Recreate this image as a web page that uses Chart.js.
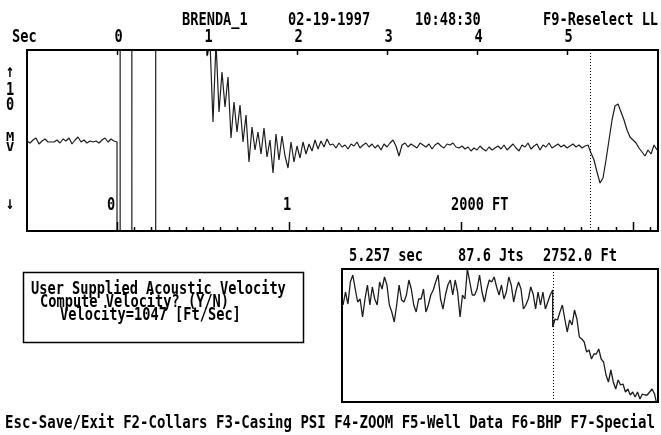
<!DOCTYPE html>
<html>
<head>
<meta charset="utf-8">
<title>BRENDA_1 acoustic trace</title>
<script src="https://cdn.jsdelivr.net/npm/chart.js"></script>
<style>
    html, body { margin: 0; padding: 0; background: #fff; }
    #wrap { position: relative; width: 661px; height: 435px; overflow: hidden; }
    #wrap canvas { position: absolute; left: 0; top: 0; }
</style>
</head>
<body>
<div id="wrap">
    <canvas id="traceChart" width="661" height="435"></canvas>
    <canvas id="zoomChart" width="661" height="435"></canvas>
</div>
<script>
// Acoustic fluid level shot - BRENDA_1

// Header
const wellName = 'BRENDA_1';
const shotDate = '02-19-1997';
const shotClock = '10:48:30';
const headerKey = 'F9-Reselect LL';

// Top axis (seconds)
const secTicks = [0, 1, 2, 3, 4, 5];
const secLabels = ['0', '1', '2', '3', '4', '5'];

// Bottom axis (depth in ft, two way travel at the acoustic velocity)
const velocity = 1047; // ft/sec
const depthTicks = [0, 100, 200, 300, 400, 500, 600, 700, 800, 900, 1000, 1100, 1200, 1300, 1400, 1500,
    1600, 1700, 1800, 1900, 2000, 2100, 2200, 2300, 2400, 2500, 2600, 2700, 2800, 2900, 3000, 3100];
const depthLabels = ['0', '1', '2000 FT'];

// Liquid level pick
const markerTime = 5.257;
const markerJoints = 87.6;
const markerDepth = 2752.0;

// Main trace, sampled every 1/30 s
const sampleStep = 1 / 30;
const preShotStart = -1.0;
const preShotAmp = [1, -1, 2, 4, -2, 1, 3, 0, 0, 0, 2, -1, 3, 1, 4, -2, 2, 5, 0, 2,
    -1, 1, 0, 1, -1, 2, 4, 0, 3, 1];

// gun shot - trace swings off scale
const shotTime = [0, 0, 0.035, 0.035, 0.165, 0.165, 0.43, 0.43];
const shotAmp = [0, -2000, -2000, 2000, 2000, -2000, -2000, 2000];

const tailStart = 1.0;
const decayAmp = [86, 100, 20, 100, 30, 70, 35, 65, 4, 40, 10, 37, 0, 27, -20, 15, -8, 10, -12, 14,
    -15, 2, -31, 8, -18, 6, -14, -26, 0, -20, -4, -16, 0, -12, -2, -9, 2, -7, 1, -5, 3, -3];
const quietAmp = [-2, -6, -1, -5, -3, -7, -2, -4, 0, -6, -3, -1, -5, -2, -6, -3, -8, -2, -5, -1,
    2, -4, -14, -3, -1, -5, -2, -4, -6, -1, -3, -5, -2, -7, -3, -1, -4, -6, -2, -3,
    -1, -5, -6, -4, -7, -5, -9, -6, -8, -4, -7, -9, -5, -8, -6, -4, -7, -3, -8, -5,
    -2, -6, -9, -3, -5, -1, -7, -4, -2, -8, -3, -5, -1, -6, -4, -2, -5, -3, -6, -4,
    -2, -5, -3, -6, -4, -3];
const echoAmp = [-11, -18, -30, -41, -36, -18, 2, 22, 36, 38, 30, 22, 12, 5, 2, -1, -6, -10, -14, -8,
    -12, -3, -8];

// Zoom window around the pick
const zoomStart = 5.058;
const zoomEnd = 5.356;
const zoomBefore = [97, 110, 98, 120, 127, 113, 100, 103, 85, 103, 117, 97, 115, 103, 97, 120, 113, 125, 117, 97,
    90, 80, 97, 117, 102, 100, 107, 122, 113, 97, 90, 103, 103, 113, 90, 97, 107, 112, 120, 127,
    103, 93, 107, 117, 122, 107, 122, 110, 85, 107, 103, 133, 120, 107, 107, 113, 127, 110, 100, 113,
    122, 120, 125, 115, 107, 117, 103, 110, 125, 117, 100, 112, 120, 113, 93, 97, 103, 115, 108, 93,
    110, 97, 110, 93, 100, 107, 112];
const zoomAfter = [75, 83, 82, 90, 97, 83, 70, 82, 77, 92, 83, 65, 63, 60, 50, 52, 43, 48, 48, 53,
    43, 40, 27, 20, 32, 20, 13, 22, 17, 18, 10, 13, 7, 10, 5, 10, 3, 8, 7, 7,
    10, 13, 8, -3];

// Velocity box
const velocityLines = ['User Supplied Acoustic Velocity', 'Compute Velocity? (Y/N)', 'Velocity=' + velocity + ' [Ft/Sec]'];
const footerText = 'Esc-Save/Exit F2-Collars F3-Casing PSI F4-ZOOM F5-Well Data F6-BHP F7-Special';

const dosFont = 'bold 18px "DejaVu Sans Mono", "Liberation Mono", monospace';
const dosSmall = 'bold 13px "DejaVu Sans Mono", "Liberation Mono", monospace';
const charWidth = 8.22; // DOS screen cell width
const footerCharWidth = 8.44;

function depthToTime(ft) {
    return 2 * ft / velocity;
}

function buildTrace() {
    const pts = [];
    preShotAmp.forEach(function(v, i) {
        pts.push({ x: preShotStart + i * sampleStep, y: v });
    });
    shotTime.forEach(function(t, i) {
        pts.push({ x: t, y: shotAmp[i] });
    });
    decayAmp.concat(quietAmp, echoAmp).forEach(function(v, i) {
        pts.push({ x: tailStart + i * sampleStep, y: v });
    });
    return pts;
}

function buildZoom() {
    const pts = [];
    const s1 = (markerTime - zoomStart) / (zoomBefore.length - 1);
    zoomBefore.forEach(function(v, i) {
        pts.push({ x: zoomStart + i * s1, y: v });
    });
    const s2 = (zoomEnd - markerTime) / (zoomAfter.length - 1);
    zoomAfter.forEach(function(v, i) {
        pts.push({ x: markerTime + i * s2, y: v });
    });
    return pts;
}

// text in the narrow DOS screen style, squeezed to the 8 px cell
function dosText(ctx, str, x, y, align, font, cell) {
    ctx.save();
    ctx.font = font || dosFont;
    ctx.fillStyle = '#000';
    ctx.textAlign = align || 'left';
    ctx.textBaseline = 'alphabetic';
    const adv = ctx.measureText('M').width;
    ctx.translate(x, y);
    ctx.scale((cell || charWidth) / adv, 1);
    ctx.fillText(str, 0, 0);
    ctx.restore();
}

function vLine(ctx, x, y1, y2, width) {
    ctx.beginPath();
    ctx.lineWidth = width || 1;
    ctx.moveTo(x, y1);
    ctx.lineTo(x, y2);
    ctx.stroke();
}

function dottedMarker(ctx, chart) {
    const area = chart.chartArea;
    const px = Math.round(chart.scales.x.getPixelForValue(markerTime)) + 0.5;
    ctx.save();
    ctx.strokeStyle = '#000';
    ctx.setLineDash([1, 2]);
    vLine(ctx, px, area.top, area.bottom, 1);
    ctx.restore();
}

const screenPlugin = {
    id: 'screen',
    afterDraw: function(chart) {
        const ctx = chart.ctx;
        const area = chart.chartArea;
        const xs = chart.scales.x;

        ctx.save();
        ctx.strokeStyle = '#000';

        // frame
        ctx.lineWidth = 2;
        ctx.strokeRect(area.left, area.top, area.right - area.left, area.bottom - area.top);

        // seconds ticks on top
        secTicks.forEach(function(t, i) {
            const px = Math.round(xs.getPixelForValue(t)) + 0.5;
            vLine(ctx, px, area.top, area.top + 5, 1.5);
            dosText(ctx, secLabels[i], px + 1, 42, 'center');
        });
        dosText(ctx, 'Sec', 12, 42);

        // depth ticks on bottom
        depthTicks.forEach(function(ft) {
            const px = Math.round(xs.getPixelForValue(depthToTime(ft))) + 0.5;
            const len = ft % 1000 === 0 ? 9 : 4;
            vLine(ctx, px, area.bottom - len, area.bottom, 1.5);
        });
        dosText(ctx, depthLabels[0], 111, 210, 'center');
        dosText(ctx, depthLabels[1], 287, 210, 'center');
        dosText(ctx, depthLabels[2], 451, 210);

        dottedMarker(ctx, chart);

        // header
        dosText(ctx, wellName, 182, 25);
        dosText(ctx, shotDate, 288, 25);
        dosText(ctx, shotClock, 415, 25);
        dosText(ctx, headerKey, 543, 25);

        // amplitude legend on the left
        dosText(ctx, '\u2191', 10, 77, 'center');
        dosText(ctx, '1', 10, 95, 'center');
        dosText(ctx, '0', 10, 110, 'center');
        dosText(ctx, 'M', 10, 141, 'center', dosSmall);
        dosText(ctx, 'V', 10, 151, 'center', dosSmall);
        dosText(ctx, '\u2193', 10, 209, 'center');

        // zoom readout
        dosText(ctx, markerTime.toFixed(3) + ' sec', 349, 261);
        dosText(ctx, markerJoints.toFixed(1) + ' Jts', 458, 261);
        dosText(ctx, markerDepth.toFixed(1) + ' Ft', 543, 261);

        // velocity box
        ctx.lineWidth = 1.5;
        ctx.strokeRect(23.5, 272.5, 280, 70);
        dosText(ctx, velocityLines[0], 31, 294);
        dosText(ctx, velocityLines[1], 40, 307);
        dosText(ctx, velocityLines[2], 60, 320);

        // function keys
        dosText(ctx, footerText, 5, 428, 'left', dosFont, footerCharWidth);

        ctx.restore();
    }
};

const zoomFramePlugin = {
    id: 'zoomFrame',
    afterDraw: function(chart) {
        const ctx = chart.ctx;
        const area = chart.chartArea;
        ctx.save();
        ctx.strokeStyle = '#000';
        ctx.lineWidth = 2;
        ctx.strokeRect(area.left, area.top, area.right - area.left, area.bottom - area.top);
        dottedMarker(ctx, chart);
        ctx.restore();
    }
};

function initTraceChart() {
    const ctx = document.getElementById('traceChart').getContext('2d');
    window.traceChart = new Chart(ctx, {
        type: 'line',
        data: {
            datasets: [{
                data: buildTrace(),
                borderColor: '#1e1e1e',
                borderWidth: 1.2,
                borderJoinStyle: 'bevel',
                pointRadius: 0,
                tension: 0,
                fill: false,
                clip: 0
            }]
        },
        options: {
            animation: false,
            responsive: false,
            events: [],
            layout: { padding: { left: 27, right: 3, top: 50, bottom: 204 } },
            scales: {
                x: { type: 'linear', min: -1.0, max: 6.011, display: false },
                y: { type: 'linear', min: -89, max: 92, display: false }
            },
            plugins: {
                legend: { display: false },
                tooltip: { enabled: false }
            }
        },
        plugins: [screenPlugin]
    });
}

function initZoomChart() {
    const ctx = document.getElementById('zoomChart').getContext('2d');
    window.zoomChart = new Chart(ctx, {
        type: 'line',
        data: {
            datasets: [{
                data: buildZoom(),
                borderColor: '#1e1e1e',
                borderWidth: 1.3,
                borderJoinStyle: 'bevel',
                pointRadius: 0,
                tension: 0,
                fill: false,
                clip: 0
            }]
        },
        options: {
            animation: false,
            responsive: false,
            events: [],
            layout: { padding: { left: 342, right: 3, top: 269, bottom: 33 } },
            scales: {
                x: { type: 'linear', min: 5.057, max: 5.357, display: false },
                y: { type: 'linear', min: 0, max: 133, display: false }
            },
            plugins: {
                legend: { display: false },
                tooltip: { enabled: false }
            }
        },
        plugins: [zoomFramePlugin]
    });
}

initTraceChart();
initZoomChart();
</script>
</body>
</html>
